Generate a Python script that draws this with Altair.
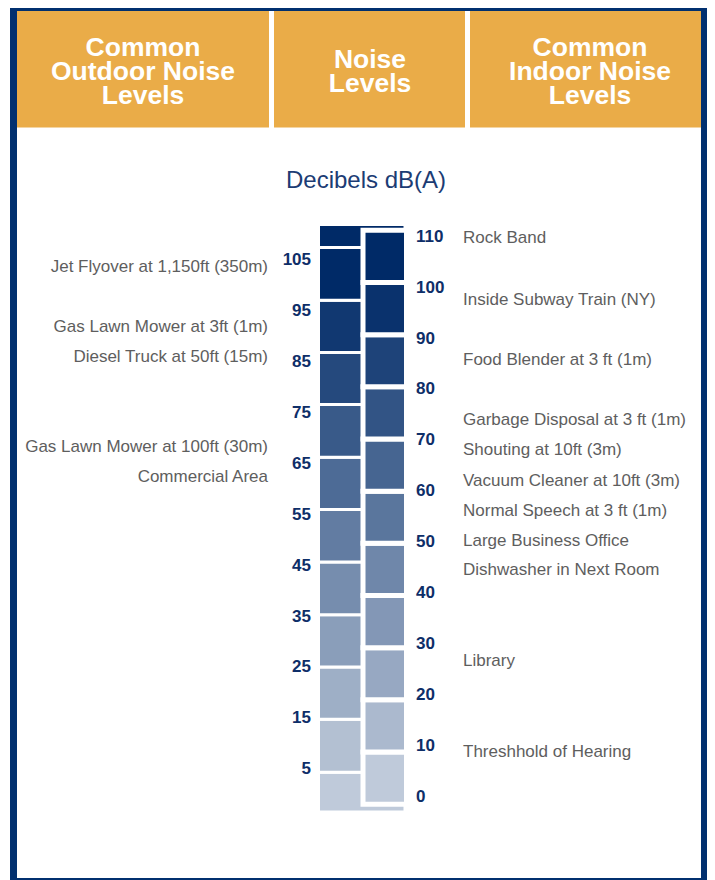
import altair as alt
import pandas as pd

# ---------------- data ----------------
right_low = [0, 10, 20, 30, 40, 50, 60, 70, 80, 90, 100]
right_high = [10, 20, 30, 40, 50, 60, 70, 80, 90, 100, 110]
left_edges = [-1.5, 6.1, 16.3, 26.3, 36.3, 46.4, 56.5, 66.5, 76.6, 86.6, 96.6, 106.7, 111.1]

left_ticks = [5, 15, 25, 35, 45, 55, 65, 75, 85, 95, 105]
right_ticks = [0, 10, 20, 30, 40, 50, 60, 70, 80, 90, 100, 110]

outdoor_sources = [
    "Jet Flyover at 1,150ft (350m)",
    "Gas Lawn Mower at 3ft (1m)",
    "Diesel Truck at 50ft (15m)",
    "Gas Lawn Mower at 100ft (30m)",
    "Commercial Area",
]
outdoor_db = [104.0, 92.3, 86.4, 68.7, 62.8]

indoor_sources = [
    "Rock Band",
    "Inside Subway Train (NY)",
    "Food Blender at 3 ft (1m)",
    "Garbage Disposal at 3 ft (1m)",
    "Shouting at 10ft (3m)",
    "Vacuum Cleaner at 10ft (3m)",
    "Normal Speech at 3 ft (1m)",
    "Large Business Office",
    "Dishwasher in Next Room",
    "Library",
    "Threshhold of Hearing",
]
indoor_db = [109.7, 97.6, 85.8, 74.0, 68.1, 62.1, 56.2, 50.3, 44.5, 26.7, 8.8]

header_left = ["Common", "Outdoor Noise", "Levels"]
header_mid = ["Noise", "Levels"]
header_right = ["Common", "Indoor Noise", "Levels"]
title_text = "Decibels dB(A)"

# ---------------- styles ----------------
NAVY = "#01306F"
ORANGE = "#EAAC48"
NUM_COLOR = "#0E2E68"
TXT_COLOR = "#5E5E5E"
TITLE_COLOR = "#1C3C74"
FONT = "Liberation Sans"

W, H = 699, 872

block_y = alt.Scale(domain=[0, 110], range=[796.2, 222.3], nice=False, zero=False)
label_y = alt.Scale(domain=[0, 110], range=[788.7, 228.7], nice=False, zero=False)
shade = alt.Scale(domain=[5, 100], range=["#BFCADA", "#002A67"], interpolate="rgb", clamp=True)

one = pd.DataFrame({"k": [0]})


def box(x, x2, y, y2, color):
    return alt.Chart(one).mark_rect(color=color).encode(
        x=alt.value(x), x2=alt.value(x2), y=alt.value(y), y2=alt.value(y2)
    )


def header_text(lines, x, y):
    return alt.Chart(one).mark_text(
        font=FONT, fontSize=26.5, fontWeight="bold", color="white",
        align="center", baseline="middle", lineHeight=24,
    ).encode(x=alt.value(x), y=alt.value(y), text=alt.value(lines))


frame = box(2, W, 0, H, NAVY)
inner = box(9, 693, 3, 870, "white")
h1 = box(9, 261, 3, 119.5, ORANGE)
h2 = box(266, 457, 3, 119.5, ORANGE)
h3 = box(462, 693, 3, 119.5, ORANGE)

t1 = header_text(header_left, 135, 39.5)
t2 = header_text(header_mid, 362, 51.5)
t3 = header_text(header_right, 582, 39.5)

title = alt.Chart(one).mark_text(
    font=FONT, fontSize=24, color=TITLE_COLOR, align="center", baseline="middle"
).encode(x=alt.value(358), y=alt.value(173), text=alt.value(title_text))

left_df = pd.DataFrame({"lo": left_edges[:-1], "hi": left_edges[1:]})
left_df["mid"] = (left_df["lo"] + left_df["hi"]) / 2
right_df = pd.DataFrame({"lo": right_low, "hi": right_high})
right_df["mid"] = (right_df["lo"] + right_df["hi"]) / 2

left_blocks = alt.Chart(left_df).mark_rect(stroke="white", strokeWidth=3).encode(
    x=alt.value(310.5), x2=alt.value(397),
    y=alt.Y("lo:Q", scale=block_y, axis=None), y2="hi:Q",
    color=alt.Color("mid:Q", scale=shade, legend=None),
)
right_blocks = alt.Chart(right_df).mark_rect(stroke="white", strokeWidth=5).encode(
    x=alt.value(355), x2=alt.value(398.5),
    y=alt.Y("lo:Q", scale=block_y, axis=None), y2="hi:Q",
    color=alt.Color("mid:Q", scale=shade, legend=None),
)

left_nums = alt.Chart(pd.DataFrame({"v": left_ticks})).mark_text(
    font=FONT, fontSize=17, fontWeight="bold", color=NUM_COLOR,
    align="right", baseline="middle", dy=-2,
).encode(x=alt.value(303), y=alt.Y("v:Q", scale=label_y, axis=None), text="v:Q")

right_nums = alt.Chart(pd.DataFrame({"v": right_ticks})).mark_text(
    font=FONT, fontSize=17, fontWeight="bold", color=NUM_COLOR,
    align="left", baseline="middle",
).encode(x=alt.value(408), y=alt.Y("v:Q", scale=label_y, axis=None), text="v:Q")

outdoor = alt.Chart(pd.DataFrame({"s": outdoor_sources, "db": outdoor_db})).mark_text(
    font=FONT, fontSize=17, color=TXT_COLOR, align="right", baseline="middle",
).encode(x=alt.value(260), y=alt.Y("db:Q", scale=label_y, axis=None), text="s:N")

indoor = alt.Chart(pd.DataFrame({"s": indoor_sources, "db": indoor_db})).mark_text(
    font=FONT, fontSize=17, color=TXT_COLOR, align="left", baseline="middle",
).encode(x=alt.value(455), y=alt.Y("db:Q", scale=label_y, axis=None), text="s:N")

chart = alt.layer(
    frame, inner, h1, h2, h3, t1, t2, t3, title,
    left_blocks, right_blocks, left_nums, right_nums, outdoor, indoor,
).resolve_scale(y="independent", color="shared").properties(
    width=W, height=H, padding=0, autosize="none", background="white"
).configure_view(stroke=None)

chart.save("out.html", embed_options={"renderer": "svg", "actions": False})
